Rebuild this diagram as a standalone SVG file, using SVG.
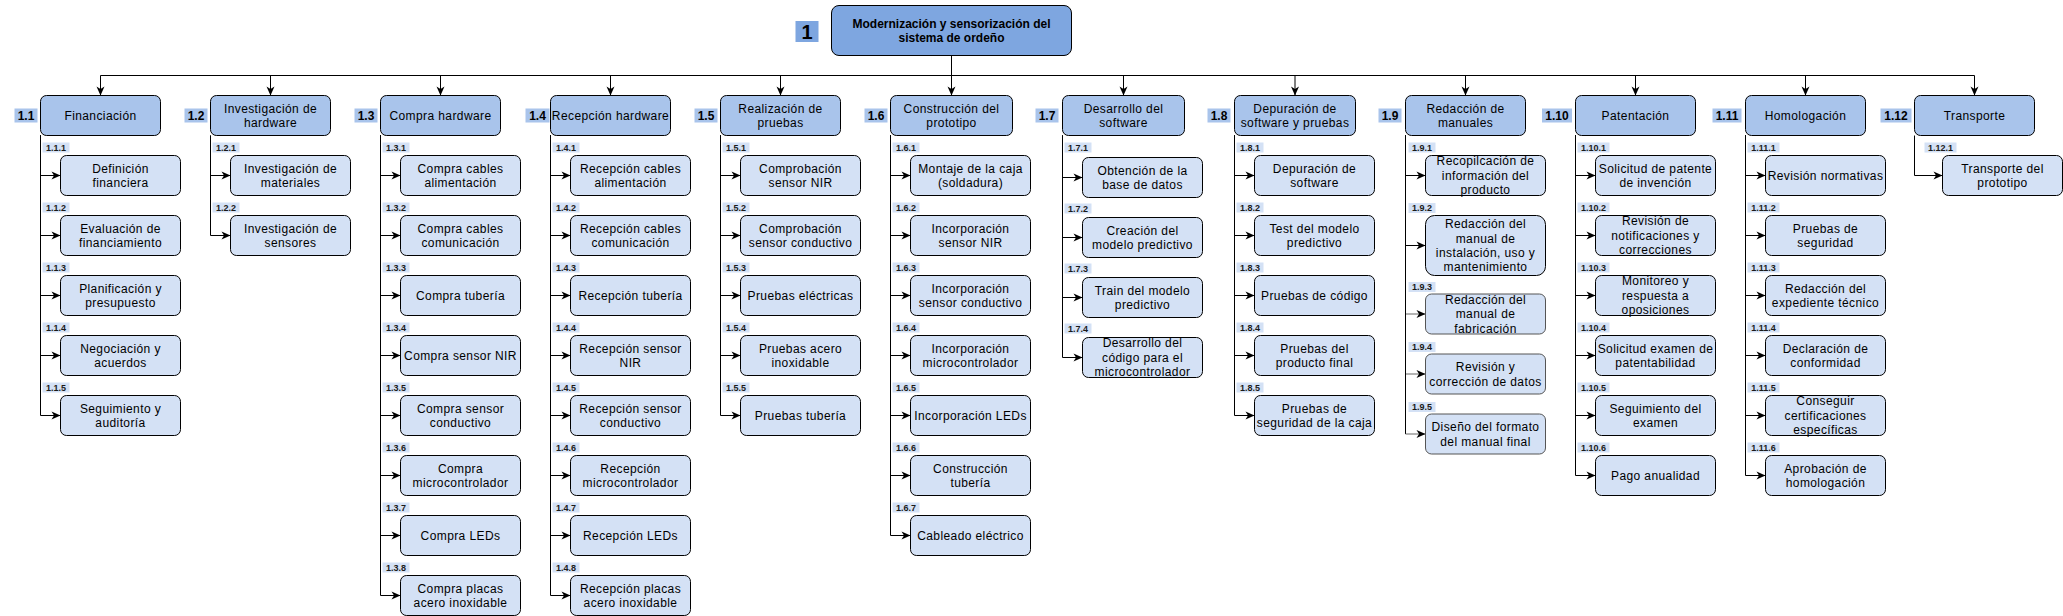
<svg xmlns="http://www.w3.org/2000/svg" width="2063" height="616" viewBox="0 0 2063 616">
<defs>
<style>
.b0{fill:#7EA6E0;stroke:#000;stroke-width:1}
.b1{fill:#A9C4EB;stroke:#000;stroke-width:1}
.b2{fill:#D4E1F5;stroke:#000;stroke-width:1}
.bg{stroke:#555}
.lb0{fill:#7EA6E0}
.lb1{fill:#A9C4EB}
.lb2{fill:#D4E1F5}
.t{font-family:"Liberation Sans",Arial,Helvetica,sans-serif;font-size:12px;letter-spacing:0.4px;text-anchor:middle;fill:#000}
.tb{font-weight:bold;letter-spacing:0}
.n0{font-family:"Liberation Sans",Arial,sans-serif;font-size:20px;font-weight:bold;text-anchor:middle;fill:#000}
.n1{font-family:"Liberation Sans",Arial,sans-serif;font-size:12px;font-weight:bold;text-anchor:middle;fill:#000}
.n2{font-family:"Liberation Sans",Arial,sans-serif;font-size:9px;font-weight:bold;text-anchor:middle;fill:#1a1a1a}
.c path{fill:none;stroke:#000;stroke-width:1}
.c path.m{marker-end:url(#a)}
.c path.g{stroke:#666}
</style>
<marker id="a" markerUnits="userSpaceOnUse" markerWidth="10" markerHeight="10" refX="9" refY="4" orient="auto" overflow="visible"><path d="M0,0 L9,4 L0,8 L2.5,4 Z" fill="#000"/></marker>
</defs>
<g transform="translate(0.5,0.5)">
<g id="connectors" class="c">
<path class="m" d="M951,55 V75 H100 V95"/>
<path class="m" d="M951,55 V75 H270 V95"/>
<path class="m" d="M951,55 V75 H440 V95"/>
<path class="m" d="M951,55 V75 H610 V95"/>
<path class="m" d="M951,55 V75 H780 V95"/>
<path class="m" d="M951,55 V95"/>
<path class="m" d="M951,55 V75 H1123 V95"/>
<path class="m" d="M951,55 V75 H1294.5 V95"/>
<path class="m" d="M951,55 V75 H1465 V95"/>
<path class="m" d="M951,55 V75 H1635 V95"/>
<path class="m" d="M951,55 V75 H1805 V95"/>
<path class="m" d="M951,55 V75 H1974 V95"/>
<path class="m" d="M40,135 V175 H60"/><path class="m" d="M40,135 V235 H60"/><path class="m" d="M40,135 V295 H60"/><path class="m" d="M40,135 V355 H60"/><path class="m" d="M40,135 V415 H60"/>
<path class="m" d="M210,135 V175 H230"/><path class="m" d="M210,135 V235 H230"/>
<path class="m" d="M380,135 V175 H400"/><path class="m" d="M380,135 V235 H400"/><path class="m" d="M380,135 V295 H400"/><path class="m" d="M380,135 V355 H400"/><path class="m" d="M380,135 V415 H400"/><path class="m" d="M380,135 V475 H400"/><path class="m" d="M380,135 V535 H400"/><path class="m" d="M380,135 V595 H400"/>
<path class="m" d="M550,135 V175 H570"/><path class="m" d="M550,135 V235 H570"/><path class="m" d="M550,135 V295 H570"/><path class="m" d="M550,135 V355 H570"/><path class="m" d="M550,135 V415 H570"/><path class="m" d="M550,135 V475 H570"/><path class="m" d="M550,135 V535 H570"/><path class="m" d="M550,135 V595 H570"/>
<path class="m" d="M720,135 V175 H740"/><path class="m" d="M720,135 V235 H740"/><path class="m" d="M720,135 V295 H740"/><path class="m" d="M720,135 V355 H740"/><path class="m" d="M720,135 V415 H740"/>
<path class="m" d="M890,135 V175 H910"/><path class="m" d="M890,135 V235 H910"/><path class="m" d="M890,135 V295 H910"/><path class="m" d="M890,135 V355 H910"/><path class="m" d="M890,135 V415 H910"/><path class="m" d="M890,135 V475 H910"/><path class="m" d="M890,135 V535 H910"/>
<path class="m" d="M1062,135 V177 H1082"/><path class="m" d="M1062,135 V237 H1082"/><path class="m" d="M1062,135 V297 H1082"/><path class="m" d="M1062,135 V357 H1082"/>
<path class="m" d="M1234,135 V175 H1254"/><path class="m" d="M1234,135 V235 H1254"/><path class="m" d="M1234,135 V295 H1254"/><path class="m" d="M1234,135 V355 H1254"/><path class="m" d="M1234,135 V415 H1254"/>
<path class="m" d="M1405,135 V175 H1425"/><path class="m" d="M1405,135 V245 H1425"/>
<path d="M1405,135 V313.5"/><path class="m g" d="M1405,313.5 H1425"/>
<path d="M1405,135 V373.5"/><path class="m g" d="M1405,373.5 H1425"/>
<path d="M1405,135 V433.5"/><path class="m g" d="M1405,433.5 H1425"/>
<path class="m" d="M1575,135 V175 H1595"/><path class="m" d="M1575,135 V235 H1595"/><path class="m" d="M1575,135 V295 H1595"/><path class="m" d="M1575,135 V355 H1595"/><path class="m" d="M1575,135 V415 H1595"/><path class="m" d="M1575,135 V475 H1595"/>
<path class="m" d="M1745,135 V175 H1765"/><path class="m" d="M1745,135 V235 H1765"/><path class="m" d="M1745,135 V295 H1765"/><path class="m" d="M1745,135 V355 H1765"/><path class="m" d="M1745,135 V415 H1765"/><path class="m" d="M1745,135 V475 H1765"/>
<path class="m" d="M1914,135 V175 H1942"/>
</g>

<g id="n1">
<rect class="b0" x="831" y="5" width="240" height="50" rx="7.5"/>
<rect class="lb0" x="795" y="20.5" width="23" height="21"/>
<text class="n0" x="806.5" y="38.3">1</text>
<text class="t tb"><tspan x="951" y="27.1">Modernización y sensorización del</tspan><tspan x="951" y="41.5">sistema de ordeño</tspan></text>
</g>

<!-- Level 1 -->
<g id="n1-1"><rect class="b1" x="40" y="95" width="120" height="40" rx="6"/><rect class="lb1" x="14" y="108" width="23" height="14"/><text class="n1" x="25.5" y="119.3">1.1</text><text class="t" x="100" y="119.3">Financiación</text></g>
<g id="n1-2"><rect class="b1" x="210" y="95" width="120" height="40" rx="6"/><rect class="lb1" x="184" y="108" width="23" height="14"/><text class="n1" x="195.5" y="119.3">1.2</text><text class="t"><tspan x="270" y="112.1">Investigación de</tspan><tspan x="270" y="126.5">hardware</tspan></text></g>
<g id="n1-3"><rect class="b1" x="380" y="95" width="120" height="40" rx="6"/><rect class="lb1" x="354" y="108" width="23" height="14"/><text class="n1" x="365.5" y="119.3">1.3</text><text class="t" x="440" y="119.3">Compra hardware</text></g>
<g id="n1-4"><rect class="b1" x="550" y="95" width="120" height="40" rx="6"/><rect class="lb1" x="525" y="108" width="24" height="14"/><text class="n1" x="537" y="119.3">1.4</text><text class="t" x="610" y="119.3">Recepción hardware</text></g>
<g id="n1-5"><rect class="b1" x="720" y="95" width="120" height="40" rx="6"/><rect class="lb1" x="694" y="108" width="23" height="14"/><text class="n1" x="705.5" y="119.3">1.5</text><text class="t"><tspan x="780" y="112.1">Realización de</tspan><tspan x="780" y="126.5">pruebas</tspan></text></g>
<g id="n1-6"><rect class="b1" x="890" y="95" width="122" height="40" rx="6"/><rect class="lb1" x="864" y="108" width="23" height="14"/><text class="n1" x="875.5" y="119.3">1.6</text><text class="t"><tspan x="951" y="112.1">Construcción del</tspan><tspan x="951" y="126.5">prototipo</tspan></text></g>
<g id="n1-7"><rect class="b1" x="1062" y="95" width="122" height="40" rx="6"/><rect class="lb1" x="1035" y="108" width="23" height="14"/><text class="n1" x="1046.5" y="119.3">1.7</text><text class="t"><tspan x="1123" y="112.1">Desarrollo del</tspan><tspan x="1123" y="126.5">software</tspan></text></g>
<g id="n1-8"><rect class="b1" x="1234" y="95" width="121" height="40" rx="6"/><rect class="lb1" x="1207" y="108" width="23" height="14"/><text class="n1" x="1218.5" y="119.3">1.8</text><text class="t"><tspan x="1294.5" y="112.1">Depuración de</tspan><tspan x="1294.5" y="126.5">software y pruebas</tspan></text></g>
<g id="n1-9"><rect class="b1" x="1405" y="95" width="120" height="40" rx="6"/><rect class="lb1" x="1378" y="108" width="23" height="14"/><text class="n1" x="1389.5" y="119.3">1.9</text><text class="t"><tspan x="1465" y="112.1">Redacción de</tspan><tspan x="1465" y="126.5">manuales</tspan></text></g>
<g id="n1-10"><rect class="b1" x="1575" y="95" width="120" height="40" rx="6"/><rect class="lb1" x="1541.5" y="108" width="30" height="14"/><text class="n1" x="1556.5" y="119.3">1.10</text><text class="t" x="1635" y="119.3">Patentación</text></g>
<g id="n1-11"><rect class="b1" x="1745" y="95" width="120" height="40" rx="6"/><rect class="lb1" x="1712" y="108" width="29" height="14"/><text class="n1" x="1726.5" y="119.3">1.11</text><text class="t" x="1805" y="119.3">Homologación</text></g>
<g id="n1-12"><rect class="b1" x="1914" y="95" width="120" height="40" rx="6"/><rect class="lb1" x="1880" y="108" width="31" height="14"/><text class="n1" x="1895.5" y="119.3">1.12</text><text class="t" x="1974" y="119.3">Transporte</text></g>

<!-- 1.1 -->
<g id="n1-1-1"><rect class="b2" x="60" y="155" width="120" height="40" rx="6"/><rect class="lb2" x="42" y="142" width="27" height="10"/><text class="n2" x="55.5" y="150.3">1.1.1</text><text class="t"><tspan x="120" y="172.1">Definición</tspan><tspan x="120" y="186.5">financiera</tspan></text></g>
<g id="n1-1-2"><rect class="b2" x="60" y="215" width="120" height="40" rx="6"/><rect class="lb2" x="42" y="202" width="27" height="10"/><text class="n2" x="55.5" y="210.3">1.1.2</text><text class="t"><tspan x="120" y="232.1">Evaluación de</tspan><tspan x="120" y="246.5">financiamiento</tspan></text></g>
<g id="n1-1-3"><rect class="b2" x="60" y="275" width="120" height="40" rx="6"/><rect class="lb2" x="42" y="262" width="27" height="10"/><text class="n2" x="55.5" y="270.3">1.1.3</text><text class="t"><tspan x="120" y="292.1">Planificación y</tspan><tspan x="120" y="306.5">presupuesto</tspan></text></g>
<g id="n1-1-4"><rect class="b2" x="60" y="335" width="120" height="40" rx="6"/><rect class="lb2" x="42" y="322" width="27" height="10"/><text class="n2" x="55.5" y="330.3">1.1.4</text><text class="t"><tspan x="120" y="352.1">Negociación y</tspan><tspan x="120" y="366.5">acuerdos</tspan></text></g>
<g id="n1-1-5"><rect class="b2" x="60" y="395" width="120" height="40" rx="6"/><rect class="lb2" x="42" y="382" width="27" height="10"/><text class="n2" x="55.5" y="390.3">1.1.5</text><text class="t"><tspan x="120" y="412.1">Seguimiento y</tspan><tspan x="120" y="426.5">auditoría</tspan></text></g>

<!-- 1.2 -->
<g id="n1-2-1"><rect class="b2" x="230" y="155" width="120" height="40" rx="6"/><rect class="lb2" x="212" y="142" width="27" height="10"/><text class="n2" x="225.5" y="150.3">1.2.1</text><text class="t"><tspan x="290" y="172.1">Investigación de</tspan><tspan x="290" y="186.5">materiales</tspan></text></g>
<g id="n1-2-2"><rect class="b2" x="230" y="215" width="120" height="40" rx="6"/><rect class="lb2" x="212" y="202" width="27" height="10"/><text class="n2" x="225.5" y="210.3">1.2.2</text><text class="t"><tspan x="290" y="232.1">Investigación de</tspan><tspan x="290" y="246.5">sensores</tspan></text></g>

<!-- 1.3 -->
<g id="n1-3-1"><rect class="b2" x="400" y="155" width="120" height="40" rx="6"/><rect class="lb2" x="382" y="142" width="27" height="10"/><text class="n2" x="395.5" y="150.3">1.3.1</text><text class="t"><tspan x="460" y="172.1">Compra cables</tspan><tspan x="460" y="186.5">alimentación</tspan></text></g>
<g id="n1-3-2"><rect class="b2" x="400" y="215" width="120" height="40" rx="6"/><rect class="lb2" x="382" y="202" width="27" height="10"/><text class="n2" x="395.5" y="210.3">1.3.2</text><text class="t"><tspan x="460" y="232.1">Compra cables</tspan><tspan x="460" y="246.5">comunicación</tspan></text></g>
<g id="n1-3-3"><rect class="b2" x="400" y="275" width="120" height="40" rx="6"/><rect class="lb2" x="382" y="262" width="27" height="10"/><text class="n2" x="395.5" y="270.3">1.3.3</text><text class="t" x="460" y="299.3">Compra tubería</text></g>
<g id="n1-3-4"><rect class="b2" x="400" y="335" width="120" height="40" rx="6"/><rect class="lb2" x="382" y="322" width="27" height="10"/><text class="n2" x="395.5" y="330.3">1.3.4</text><text class="t" x="460" y="359.3">Compra sensor NIR</text></g>
<g id="n1-3-5"><rect class="b2" x="400" y="395" width="120" height="40" rx="6"/><rect class="lb2" x="382" y="382" width="27" height="10"/><text class="n2" x="395.5" y="390.3">1.3.5</text><text class="t"><tspan x="460" y="412.1">Compra sensor</tspan><tspan x="460" y="426.5">conductivo</tspan></text></g>
<g id="n1-3-6"><rect class="b2" x="400" y="455" width="120" height="40" rx="6"/><rect class="lb2" x="382" y="442" width="27" height="10"/><text class="n2" x="395.5" y="450.3">1.3.6</text><text class="t"><tspan x="460" y="472.1">Compra</tspan><tspan x="460" y="486.5">microcontrolador</tspan></text></g>
<g id="n1-3-7"><rect class="b2" x="400" y="515" width="120" height="40" rx="6"/><rect class="lb2" x="382" y="502" width="27" height="10"/><text class="n2" x="395.5" y="510.3">1.3.7</text><text class="t" x="460" y="539.3">Compra LEDs</text></g>
<g id="n1-3-8"><rect class="b2" x="400" y="575" width="120" height="40" rx="6"/><rect class="lb2" x="382" y="562" width="27" height="10"/><text class="n2" x="395.5" y="570.3">1.3.8</text><text class="t"><tspan x="460" y="592.1">Compra placas</tspan><tspan x="460" y="606.5">acero inoxidable</tspan></text></g>

<!-- 1.4 -->
<g id="n1-4-1"><rect class="b2" x="570" y="155" width="120" height="40" rx="6"/><rect class="lb2" x="552" y="142" width="27" height="10"/><text class="n2" x="565.5" y="150.3">1.4.1</text><text class="t"><tspan x="630" y="172.1">Recepción cables</tspan><tspan x="630" y="186.5">alimentación</tspan></text></g>
<g id="n1-4-2"><rect class="b2" x="570" y="215" width="120" height="40" rx="6"/><rect class="lb2" x="552" y="202" width="27" height="10"/><text class="n2" x="565.5" y="210.3">1.4.2</text><text class="t"><tspan x="630" y="232.1">Recepción cables</tspan><tspan x="630" y="246.5">comunicación</tspan></text></g>
<g id="n1-4-3"><rect class="b2" x="570" y="275" width="120" height="40" rx="6"/><rect class="lb2" x="552" y="262" width="27" height="10"/><text class="n2" x="565.5" y="270.3">1.4.3</text><text class="t" x="630" y="299.3">Recepción tubería</text></g>
<g id="n1-4-4"><rect class="b2" x="570" y="335" width="120" height="40" rx="6"/><rect class="lb2" x="552" y="322" width="27" height="10"/><text class="n2" x="565.5" y="330.3">1.4.4</text><text class="t"><tspan x="630" y="352.1">Recepción sensor</tspan><tspan x="630" y="366.5">NIR</tspan></text></g>
<g id="n1-4-5"><rect class="b2" x="570" y="395" width="120" height="40" rx="6"/><rect class="lb2" x="552" y="382" width="27" height="10"/><text class="n2" x="565.5" y="390.3">1.4.5</text><text class="t"><tspan x="630" y="412.1">Recepción sensor</tspan><tspan x="630" y="426.5">conductivo</tspan></text></g>
<g id="n1-4-6"><rect class="b2" x="570" y="455" width="120" height="40" rx="6"/><rect class="lb2" x="552" y="442" width="27" height="10"/><text class="n2" x="565.5" y="450.3">1.4.6</text><text class="t"><tspan x="630" y="472.1">Recepción</tspan><tspan x="630" y="486.5">microcontrolador</tspan></text></g>
<g id="n1-4-7"><rect class="b2" x="570" y="515" width="120" height="40" rx="6"/><rect class="lb2" x="552" y="502" width="27" height="10"/><text class="n2" x="565.5" y="510.3">1.4.7</text><text class="t" x="630" y="539.3">Recepción LEDs</text></g>
<g id="n1-4-8"><rect class="b2" x="570" y="575" width="120" height="40" rx="6"/><rect class="lb2" x="552" y="562" width="27" height="10"/><text class="n2" x="565.5" y="570.3">1.4.8</text><text class="t"><tspan x="630" y="592.1">Recepción placas</tspan><tspan x="630" y="606.5">acero inoxidable</tspan></text></g>

<!-- 1.5 -->
<g id="n1-5-1"><rect class="b2" x="740" y="155" width="120" height="40" rx="6"/><rect class="lb2" x="722" y="142" width="27" height="10"/><text class="n2" x="735.5" y="150.3">1.5.1</text><text class="t"><tspan x="800" y="172.1">Comprobación</tspan><tspan x="800" y="186.5">sensor NIR</tspan></text></g>
<g id="n1-5-2"><rect class="b2" x="740" y="215" width="120" height="40" rx="6"/><rect class="lb2" x="722" y="202" width="27" height="10"/><text class="n2" x="735.5" y="210.3">1.5.2</text><text class="t"><tspan x="800" y="232.1">Comprobación</tspan><tspan x="800" y="246.5">sensor conductivo</tspan></text></g>
<g id="n1-5-3"><rect class="b2" x="740" y="275" width="120" height="40" rx="6"/><rect class="lb2" x="722" y="262" width="27" height="10"/><text class="n2" x="735.5" y="270.3">1.5.3</text><text class="t" x="800" y="299.3">Pruebas eléctricas</text></g>
<g id="n1-5-4"><rect class="b2" x="740" y="335" width="120" height="40" rx="6"/><rect class="lb2" x="722" y="322" width="27" height="10"/><text class="n2" x="735.5" y="330.3">1.5.4</text><text class="t"><tspan x="800" y="352.1">Pruebas acero</tspan><tspan x="800" y="366.5">inoxidable</tspan></text></g>
<g id="n1-5-5"><rect class="b2" x="740" y="395" width="120" height="40" rx="6"/><rect class="lb2" x="722" y="382" width="27" height="10"/><text class="n2" x="735.5" y="390.3">1.5.5</text><text class="t" x="800" y="419.3">Pruebas tubería</text></g>

<!-- 1.6 -->
<g id="n1-6-1"><rect class="b2" x="910" y="155" width="120" height="40" rx="6"/><rect class="lb2" x="892" y="142" width="27" height="10"/><text class="n2" x="905.5" y="150.3">1.6.1</text><text class="t"><tspan x="970" y="172.1">Montaje de la caja</tspan><tspan x="970" y="186.5">(soldadura)</tspan></text></g>
<g id="n1-6-2"><rect class="b2" x="910" y="215" width="120" height="40" rx="6"/><rect class="lb2" x="892" y="202" width="27" height="10"/><text class="n2" x="905.5" y="210.3">1.6.2</text><text class="t"><tspan x="970" y="232.1">Incorporación</tspan><tspan x="970" y="246.5">sensor NIR</tspan></text></g>
<g id="n1-6-3"><rect class="b2" x="910" y="275" width="120" height="40" rx="6"/><rect class="lb2" x="892" y="262" width="27" height="10"/><text class="n2" x="905.5" y="270.3">1.6.3</text><text class="t"><tspan x="970" y="292.1">Incorporación</tspan><tspan x="970" y="306.5">sensor conductivo</tspan></text></g>
<g id="n1-6-4"><rect class="b2" x="910" y="335" width="120" height="40" rx="6"/><rect class="lb2" x="892" y="322" width="27" height="10"/><text class="n2" x="905.5" y="330.3">1.6.4</text><text class="t"><tspan x="970" y="352.1">Incorporación</tspan><tspan x="970" y="366.5">microcontrolador</tspan></text></g>
<g id="n1-6-5"><rect class="b2" x="910" y="395" width="120" height="40" rx="6"/><rect class="lb2" x="892" y="382" width="27" height="10"/><text class="n2" x="905.5" y="390.3">1.6.5</text><text class="t" x="970" y="419.3">Incorporación LEDs</text></g>
<g id="n1-6-6"><rect class="b2" x="910" y="455" width="120" height="40" rx="6"/><rect class="lb2" x="892" y="442" width="27" height="10"/><text class="n2" x="905.5" y="450.3">1.6.6</text><text class="t"><tspan x="970" y="472.1">Construcción</tspan><tspan x="970" y="486.5">tubería</tspan></text></g>
<g id="n1-6-7"><rect class="b2" x="910" y="515" width="120" height="40" rx="6"/><rect class="lb2" x="892" y="502" width="27" height="10"/><text class="n2" x="905.5" y="510.3">1.6.7</text><text class="t" x="970" y="539.3">Cableado eléctrico</text></g>

<!-- 1.7 -->
<g id="n1-7-1"><rect class="b2" x="1082" y="157" width="120" height="40" rx="6"/><rect class="lb2" x="1064" y="142" width="27" height="10"/><text class="n2" x="1077.5" y="150.3">1.7.1</text><text class="t"><tspan x="1142" y="174.1">Obtención de la</tspan><tspan x="1142" y="188.5">base de datos</tspan></text></g>
<g id="n1-7-2"><rect class="b2" x="1082" y="217" width="120" height="40" rx="6"/><rect class="lb2" x="1064" y="203" width="27" height="10"/><text class="n2" x="1077.5" y="211.3">1.7.2</text><text class="t"><tspan x="1142" y="234.1">Creación del</tspan><tspan x="1142" y="248.5">modelo predictivo</tspan></text></g>
<g id="n1-7-3"><rect class="b2" x="1082" y="277" width="120" height="40" rx="6"/><rect class="lb2" x="1064" y="263" width="27" height="10"/><text class="n2" x="1077.5" y="271.3">1.7.3</text><text class="t"><tspan x="1142" y="294.1">Train del modelo</tspan><tspan x="1142" y="308.5">predictivo</tspan></text></g>
<g id="n1-7-4"><rect class="b2" x="1082" y="337" width="120" height="40" rx="6"/><rect class="lb2" x="1064" y="323" width="27" height="10"/><text class="n2" x="1077.5" y="331.3">1.7.4</text><text class="t"><tspan x="1142" y="346.9">Desarrollo del</tspan><tspan x="1142" y="361.3">código para el</tspan><tspan x="1142" y="375.7">microcontrolador</tspan></text></g>

<!-- 1.8 -->
<g id="n1-8-1"><rect class="b2" x="1254" y="155" width="120" height="40" rx="6"/><rect class="lb2" x="1236" y="142" width="27" height="10"/><text class="n2" x="1249.5" y="150.3">1.8.1</text><text class="t"><tspan x="1314" y="172.1">Depuración de</tspan><tspan x="1314" y="186.5">software</tspan></text></g>
<g id="n1-8-2"><rect class="b2" x="1254" y="215" width="120" height="40" rx="6"/><rect class="lb2" x="1236" y="202" width="27" height="10"/><text class="n2" x="1249.5" y="210.3">1.8.2</text><text class="t"><tspan x="1314" y="232.1">Test del modelo</tspan><tspan x="1314" y="246.5">predictivo</tspan></text></g>
<g id="n1-8-3"><rect class="b2" x="1254" y="275" width="120" height="40" rx="6"/><rect class="lb2" x="1236" y="262" width="27" height="10"/><text class="n2" x="1249.5" y="270.3">1.8.3</text><text class="t" x="1314" y="299.3">Pruebas de código</text></g>
<g id="n1-8-4"><rect class="b2" x="1254" y="335" width="120" height="40" rx="6"/><rect class="lb2" x="1236" y="322" width="27" height="10"/><text class="n2" x="1249.5" y="330.3">1.8.4</text><text class="t"><tspan x="1314" y="352.1">Pruebas del</tspan><tspan x="1314" y="366.5">producto final</tspan></text></g>
<g id="n1-8-5"><rect class="b2" x="1254" y="395" width="120" height="40" rx="6"/><rect class="lb2" x="1236" y="382" width="27" height="10"/><text class="n2" x="1249.5" y="390.3">1.8.5</text><text class="t"><tspan x="1314" y="412.1">Pruebas de</tspan><tspan x="1314" y="426.5">seguridad de la caja</tspan></text></g>

<!-- 1.9 -->
<g id="n1-9-1"><rect class="b2" x="1425" y="155" width="120" height="40" rx="6"/><rect class="lb2" x="1408" y="142" width="27" height="10"/><text class="n2" x="1421.5" y="150.3">1.9.1</text><text class="t"><tspan x="1485" y="164.9">Recopilcación de</tspan><tspan x="1485" y="179.3">información del</tspan><tspan x="1485" y="193.7">producto</tspan></text></g>
<g id="n1-9-2"><rect class="b2" x="1425" y="215" width="120" height="60" rx="9"/><rect class="lb2" x="1408" y="202.5" width="27" height="10"/><text class="n2" x="1421.5" y="210.8">1.9.2</text><text class="t"><tspan x="1485" y="227.7">Redacción del</tspan><tspan x="1485" y="242.1">manual de</tspan><tspan x="1485" y="256.5">instalación, uso y</tspan><tspan x="1485" y="270.9">mantenimiento</tspan></text></g>
<g id="n1-9-3"><rect class="b2 bg" x="1425" y="293.5" width="120" height="40" rx="6"/><rect class="lb2" x="1408" y="281.5" width="27" height="10"/><text class="n2" x="1421.5" y="289.8">1.9.3</text><text class="t"><tspan x="1485" y="303.4">Redacción del</tspan><tspan x="1485" y="317.8">manual de</tspan><tspan x="1485" y="332.2">fabricación</tspan></text></g>
<g id="n1-9-4"><rect class="b2 bg" x="1425" y="353.5" width="120" height="40" rx="6"/><rect class="lb2" x="1408" y="341.5" width="27" height="10"/><text class="n2" x="1421.5" y="349.8">1.9.4</text><text class="t"><tspan x="1485" y="370.6">Revisión y</tspan><tspan x="1485" y="385">corrección de datos</tspan></text></g>
<g id="n1-9-5"><rect class="b2 bg" x="1425" y="413.5" width="120" height="40" rx="6"/><rect class="lb2" x="1408" y="401.5" width="27" height="10"/><text class="n2" x="1421.5" y="409.8">1.9.5</text><text class="t"><tspan x="1485" y="430.6">Diseño del formato</tspan><tspan x="1485" y="445">del manual final</tspan></text></g>

<!-- 1.10 -->
<g id="n1-10-1"><rect class="b2" x="1595" y="155" width="120" height="40" rx="6"/><rect class="lb2" x="1577" y="142" width="32" height="10"/><text class="n2" x="1593" y="150.3">1.10.1</text><text class="t"><tspan x="1655" y="172.1">Solicitud de patente</tspan><tspan x="1655" y="186.5">de invención</tspan></text></g>
<g id="n1-10-2"><rect class="b2" x="1595" y="215" width="120" height="40" rx="6"/><rect class="lb2" x="1577" y="202" width="32" height="10"/><text class="n2" x="1593" y="210.3">1.10.2</text><text class="t"><tspan x="1655" y="224.9">Revisión de</tspan><tspan x="1655" y="239.3">notificaciones y</tspan><tspan x="1655" y="253.7">correcciones</tspan></text></g>
<g id="n1-10-3"><rect class="b2" x="1595" y="275" width="120" height="40" rx="6"/><rect class="lb2" x="1577" y="262" width="32" height="10"/><text class="n2" x="1593" y="270.3">1.10.3</text><text class="t"><tspan x="1655" y="284.9">Monitoreo y</tspan><tspan x="1655" y="299.3">respuesta a</tspan><tspan x="1655" y="313.7">oposiciones</tspan></text></g>
<g id="n1-10-4"><rect class="b2" x="1595" y="335" width="120" height="40" rx="6"/><rect class="lb2" x="1577" y="322" width="32" height="10"/><text class="n2" x="1593" y="330.3">1.10.4</text><text class="t"><tspan x="1655" y="352.1">Solicitud examen de</tspan><tspan x="1655" y="366.5">patentabilidad</tspan></text></g>
<g id="n1-10-5"><rect class="b2" x="1595" y="395" width="120" height="40" rx="6"/><rect class="lb2" x="1577" y="382" width="32" height="10"/><text class="n2" x="1593" y="390.3">1.10.5</text><text class="t"><tspan x="1655" y="412.1">Seguimiento del</tspan><tspan x="1655" y="426.5">examen</tspan></text></g>
<g id="n1-10-6"><rect class="b2" x="1595" y="455" width="120" height="40" rx="6"/><rect class="lb2" x="1577" y="442" width="32" height="10"/><text class="n2" x="1593" y="450.3">1.10.6</text><text class="t" x="1655" y="479.3">Pago anualidad</text></g>

<!-- 1.11 -->
<g id="n1-11-1"><rect class="b2" x="1765" y="155" width="120" height="40" rx="6"/><rect class="lb2" x="1747" y="142" width="32" height="10"/><text class="n2" x="1763" y="150.3">1.11.1</text><text class="t" x="1825" y="179.3">Revisión normativas</text></g>
<g id="n1-11-2"><rect class="b2" x="1765" y="215" width="120" height="40" rx="6"/><rect class="lb2" x="1747" y="202" width="32" height="10"/><text class="n2" x="1763" y="210.3">1.11.2</text><text class="t"><tspan x="1825" y="232.1">Pruebas de</tspan><tspan x="1825" y="246.5">seguridad</tspan></text></g>
<g id="n1-11-3"><rect class="b2" x="1765" y="275" width="120" height="40" rx="6"/><rect class="lb2" x="1747" y="262" width="32" height="10"/><text class="n2" x="1763" y="270.3">1.11.3</text><text class="t"><tspan x="1825" y="292.1">Redacción del</tspan><tspan x="1825" y="306.5">expediente técnico</tspan></text></g>
<g id="n1-11-4"><rect class="b2" x="1765" y="335" width="120" height="40" rx="6"/><rect class="lb2" x="1747" y="322" width="32" height="10"/><text class="n2" x="1763" y="330.3">1.11.4</text><text class="t"><tspan x="1825" y="352.1">Declaración de</tspan><tspan x="1825" y="366.5">conformidad</tspan></text></g>
<g id="n1-11-5"><rect class="b2" x="1765" y="395" width="120" height="40" rx="6"/><rect class="lb2" x="1747" y="382" width="32" height="10"/><text class="n2" x="1763" y="390.3">1.11.5</text><text class="t"><tspan x="1825" y="404.9">Conseguir</tspan><tspan x="1825" y="419.3">certificaciones</tspan><tspan x="1825" y="433.7">específicas</tspan></text></g>
<g id="n1-11-6"><rect class="b2" x="1765" y="455" width="120" height="40" rx="6"/><rect class="lb2" x="1747" y="442" width="32" height="10"/><text class="n2" x="1763" y="450.3">1.11.6</text><text class="t"><tspan x="1825" y="472.1">Aprobación de</tspan><tspan x="1825" y="486.5">homologación</tspan></text></g>

<!-- 1.12 -->
<g id="n1-12-1"><rect class="b2" x="1942" y="155" width="120" height="40" rx="6"/><rect class="lb2" x="1924" y="142" width="32" height="10"/><text class="n2" x="1940" y="150.3">1.12.1</text><text class="t"><tspan x="2002" y="172.1">Transporte del</tspan><tspan x="2002" y="186.5">prototipo</tspan></text></g>
</g>
</svg>
